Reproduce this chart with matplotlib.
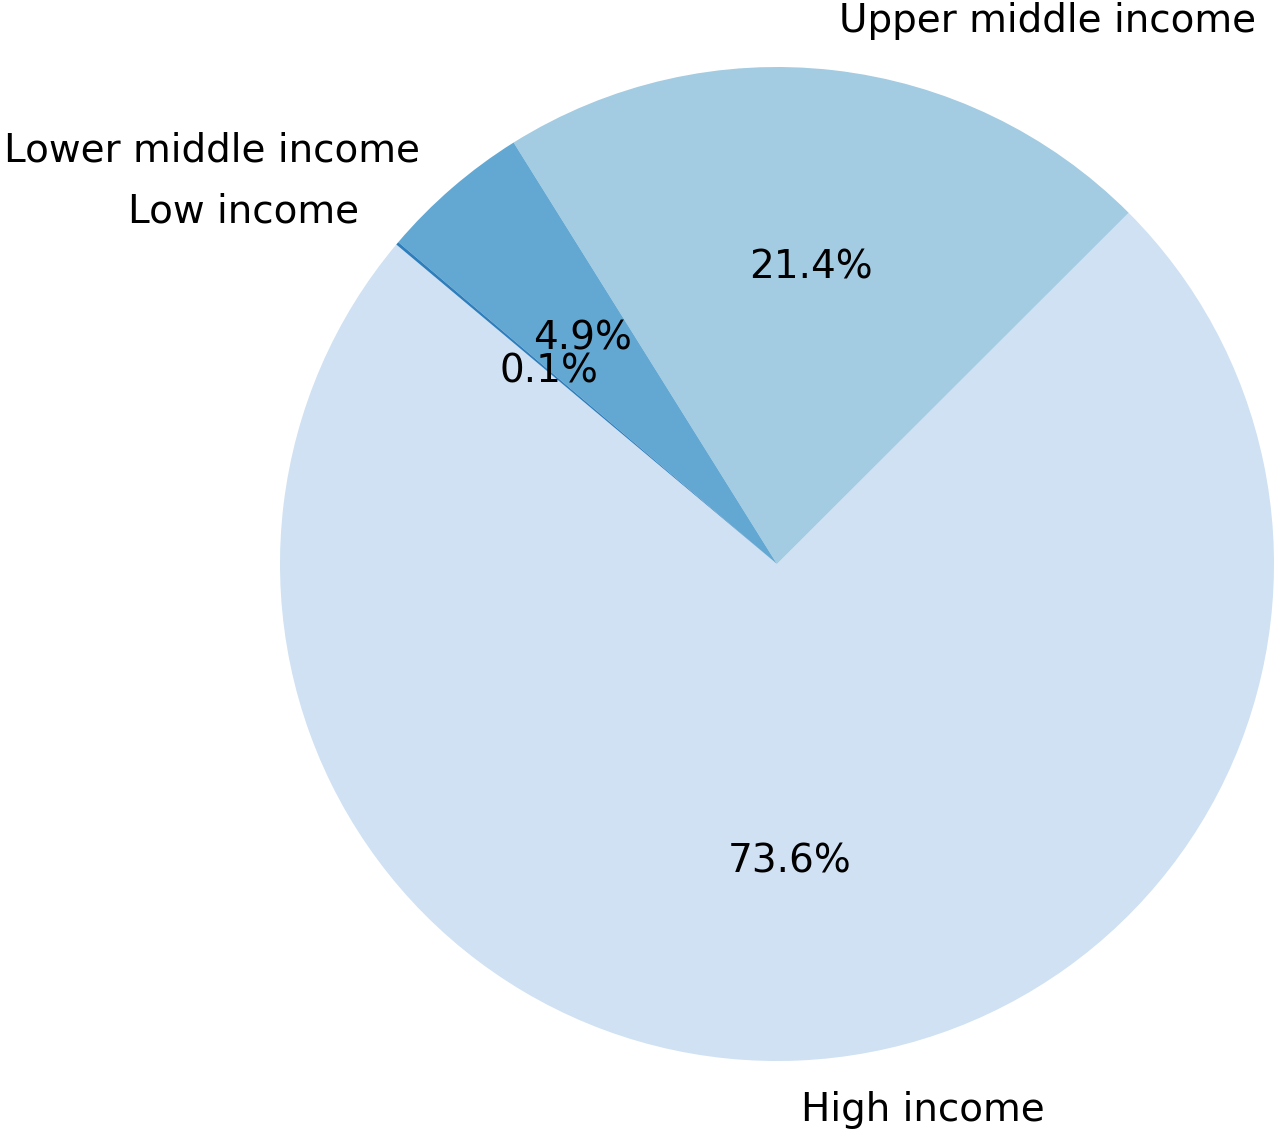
import matplotlib
matplotlib.use("Agg")
import matplotlib.pyplot as plt

# Share of total by income group
labels = ["High income", "Upper middle income", "Lower middle income", "Low income"]
shares = [73.6, 21.4, 4.9, 0.1]
colors = ["#cfe1f2", "#a3cbe2", "#62a8d3", "#2f7ebc"]

fig = plt.figure(figsize=(12.8, 11.36), dpi=100)
ax = fig.add_axes([0, 0, 1, 1])

ax.pie(shares, labels=labels, colors=colors, autopct="%1.1f%%",
       startangle=140, textprops={"fontsize": 28})

# place the pie like the reference (centre at 777,564 px, radius 497 px)
r = 497.0
ax.set_aspect("auto")
ax.set_xlim(-777 / r, (1280 - 777) / r)
ax.set_ylim(-(1136 - 564) / r, 564 / r)
ax.axis("off")

fig.savefig("out.png", dpi=100)
